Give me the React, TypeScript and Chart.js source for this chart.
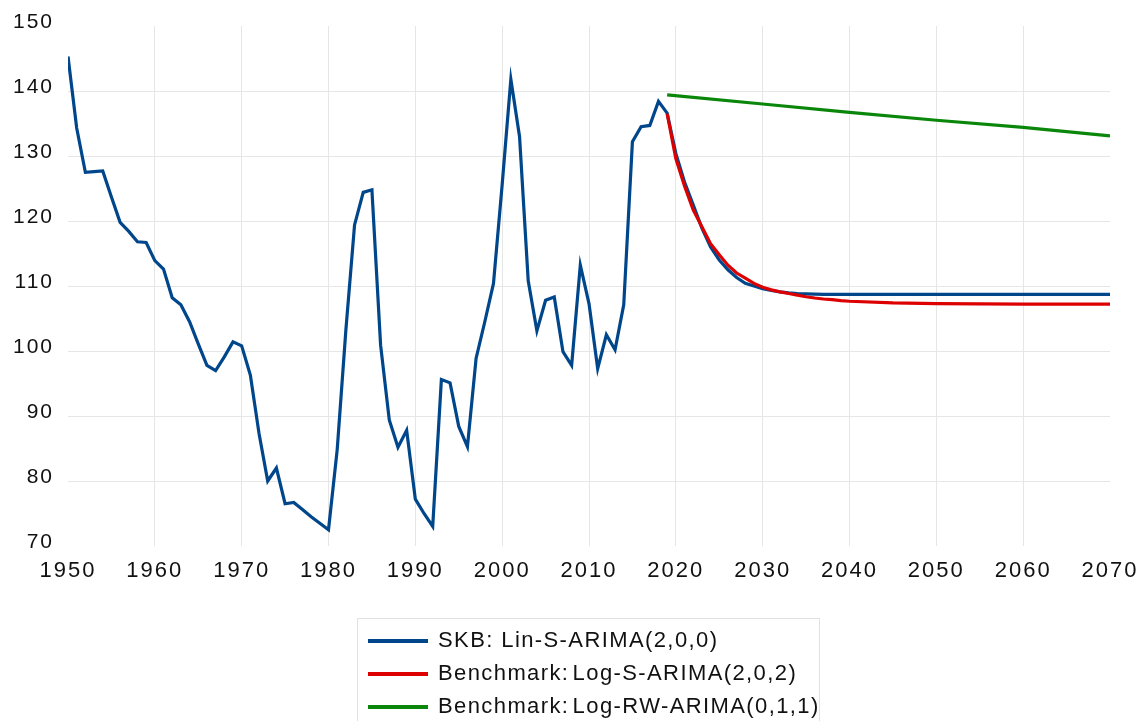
import React, { useEffect, useRef } from "react";
import { Chart, registerables } from "chart.js";

Chart.register(...registerables);

const HIST_START = 1950;
const histValues = [
  145.3, 134.3, 127.5, 127.6, 127.7, 123.7, 119.8, 118.4, 116.8, 116.7,
  113.9, 112.6, 108.2, 107.1, 104.5, 101.1, 97.8, 97.0, 99.1, 101.4,
  100.8, 96.3, 87.3, 80.0, 82.0, 76.5, 76.7, 75.6, 74.5, 73.5,
  72.5, 84.8, 103.2, 119.4, 124.4, 124.8, 100.9, 89.4, 85.2, 87.8,
  77.2, 75.0, 73.0, 95.6, 95.1, 88.4, 85.3, 98.9, 104.5, 110.4,
  125.6, 141.8, 133.0, 110.8, 103.1, 107.8, 108.3, 99.9, 97.8, 113.2,
  107.3, 97.3, 102.5, 100.2, 107.1, 132.2, 134.5, 134.7, 138.4, 136.6,
];

const fcYears = [
  2019, 2020, 2021, 2022, 2023, 2024, 2025, 2026, 2027, 2028, 2029, 2030,
  2031, 2032, 2033, 2034, 2035, 2036, 2037, 2038, 2039, 2040,
  2045, 2050, 2055, 2060, 2065, 2070,
];
const skbForecast = [
  136.6, 130.4, 126.0, 122.5, 118.9, 116.0, 114.0, 112.5, 111.3, 110.4, 110.0, 109.6,
  109.3, 109.1, 108.95, 108.85, 108.8, 108.75, 108.72, 108.7, 108.7, 108.7,
  108.7, 108.7, 108.7, 108.7, 108.7, 108.7,
];
const logSForecast = [
  136.5, 129.6, 125.4, 121.7, 119.1, 116.5, 114.8, 113.2, 112.0, 111.2, 110.4, 109.8,
  109.4, 109.1, 108.85, 108.6, 108.35, 108.15, 108.0, 107.9, 107.75, 107.65,
  107.4, 107.3, 107.25, 107.22, 107.2, 107.2,
];
const rwYears = [2019, 2030, 2040, 2050, 2060, 2070];
const rwForecast = [139.4, 138.0, 136.7, 135.5, 134.4, 133.1];

const xTicks = [1950, 1960, 1970, 1980, 1990, 2000, 2010, 2020, 2030, 2040, 2050, 2060, 2070];
const yTicks = [70, 80, 90, 100, 110, 120, 130, 140, 150];

const legendLabels = [
  "SKB: Lin-S-ARIMA(2,0,0)",
  "Benchmark:\u200aLog-S-ARIMA(2,0,2)",
  "Benchmark:\u200aLog-RW-ARIMA(0,1,1)",
];
const COLORS = ["#00468b", "#dd0000", "#0a870a"];
const FONT = "'Liberation Sans', Arial, Helvetica, sans-serif";

export default function App() {
  const ref = useRef<HTMLCanvasElement | null>(null);

  useEffect(() => {
    if (!ref.current) return;
    const blue = [
      ...histValues.map((v, i) => ({ x: HIST_START + i, y: v })),
      ...fcYears.slice(1).map((yr, i) => ({ x: yr, y: skbForecast[i + 1] })),
    ];
    const red = fcYears.map((yr, i) => ({ x: yr, y: logSForecast[i] }));
    const green = rwYears.map((yr, i) => ({ x: yr, y: rwForecast[i] }));

    const spacing = {
      id: "letterSpacing",
      beforeLayout(chart: any) {
        chart.ctx.letterSpacing = "2px";
      },
      beforeDraw(chart: any) {
        chart.ctx.letterSpacing = "2px";
      },
    };

    const gridColor = (ctx: any, n: number) =>
      ctx.index === 0 || ctx.index === n - 1 ? "rgba(0,0,0,0)" : "#e6e6e6";

    const chart = new Chart(ref.current, {
      type: "line",
      data: {
        datasets: [
          { label: legendLabels[1], data: red, borderColor: COLORS[1], borderWidth: 3.2, order: 0 },
          { label: legendLabels[0], data: blue, borderColor: COLORS[0], borderWidth: 3.2, order: 1 },
          { label: legendLabels[2], data: green, borderColor: COLORS[2], borderWidth: 3.2, order: 2 },
        ].map((d) => ({ ...d, pointRadius: 0, fill: false, tension: 0, borderJoinStyle: "miter" as const })),
      },
      options: {
        responsive: false,
        animation: false,
        layout: { padding: { top: 26, right: 33, bottom: 135, left: 0 } },
        plugins: { legend: { display: false }, tooltip: { enabled: false } },
        scales: {
          x: {
            type: "linear",
            min: 1950,
            max: 2070,
            afterBuildTicks: (s: any) => {
              s.ticks = xTicks.map((v) => ({ value: v }));
            },
            afterFit: (s: any) => {
              s.height = 40;
              s.paddingLeft = 0;
              s.paddingRight = 0;
            },
            ticks: {
              callback: (v: any) => String(v),
              font: { family: FONT, size: 22 },
              color: "#111",
              padding: 12,
              maxRotation: 0,
              autoSkip: false,
            },
            grid: { color: (c: any) => gridColor(c, xTicks.length), drawTicks: false, lineWidth: 1 },
            border: { display: false },
          },
          y: {
            type: "linear",
            min: 70,
            max: 150,
            afterBuildTicks: (s: any) => {
              s.ticks = yTicks.map((v) => ({ value: v }));
            },
            afterFit: (s: any) => {
              s.width = 68;
              s.paddingTop = 0;
              s.paddingBottom = 0;
            },
            ticks: {
              callback: (v: any) => String(v),
              font: { family: FONT, size: 21 },
              color: "#111",
              padding: 14,
              labelOffset: -3.5,
            },
            grid: { color: (c: any) => gridColor(c, yTicks.length), drawTicks: false, lineWidth: 1 },
            border: { display: false },
          },
        },
      },
      plugins: [spacing],
    });
    return () => chart.destroy();
  }, []);

  return (
    <div style={{ position: "fixed", left: 0, top: 0, width: 1143, height: 721, background: "#fff", overflow: "hidden" }}>
      <canvas ref={ref} width={1143} height={721} style={{ position: "absolute", left: 0, top: 0 }} />
      <div
        style={{
          position: "absolute",
          left: 357,
          top: 618,
          width: 463,
          height: 110,
          border: "1px solid #e2e2e2",
          boxSizing: "border-box",
        }}
      >
        {legendLabels.map((lab, i) => (
          <div
            key={lab}
            style={{
              position: "absolute",
              left: 10,
              top: 4 + i * 33,
              height: 33,
              display: "flex",
              alignItems: "center",
              whiteSpace: "nowrap",
            }}
          >
            <div style={{ width: 60, height: 3.5, background: COLORS[i], marginRight: 10, marginTop: 3 }} />
            <span style={{ fontFamily: FONT, fontSize: 22, letterSpacing: "1.4px", color: "#111" }}>{lab}</span>
          </div>
        ))}
      </div>
    </div>
  );
}
